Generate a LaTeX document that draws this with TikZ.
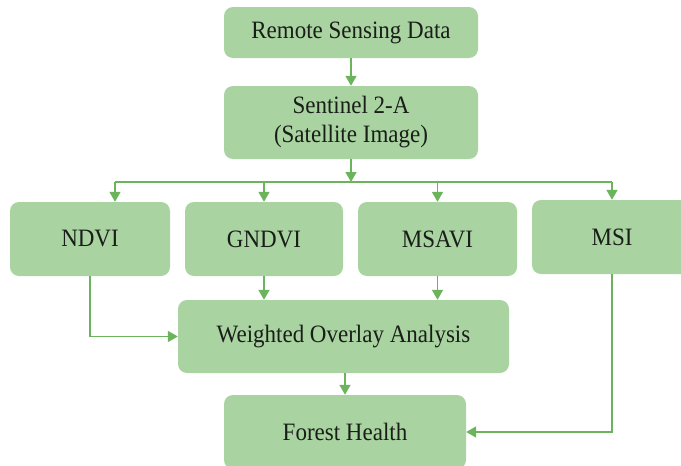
\documentclass[tikz,border=0pt]{standalone}
\usepackage{fontspec}
\setmainfont{Liberation Serif}[FakeStretch=0.92]
\usetikzlibrary{arrows.meta,calc}

\definecolor{boxfill}{RGB}{169,211,160}
\definecolor{linkgreen}{RGB}{108,180,92}
\definecolor{inktext}{RGB}{25,30,25}

\tikzset{
  stagebox/.style={rectangle, rounded corners=9pt, fill=boxfill, draw=none,
    inner sep=0pt, align=center, text=inktext,
    font=\fontsize{25pt}{29pt}\selectfont},
  link/.style={draw=linkgreen, line width=1.6pt},
  flow/.style={link, -{Triangle[length=10pt,width=11pt]}}
}

\begin{document}
\begin{tikzpicture}[x=1pt, y=-1pt]
  % canvas
  \fill[white] (0,0) rectangle (681,466);
  \useasboundingbox (0,0) rectangle (681,466);

  % boxes
  \node[stagebox, minimum width=254pt, minimum height=51pt] (rsd) at (351,32.5) {Remote Sensing Data};
  \node[stagebox, minimum width=254pt, minimum height=73pt] (sen) at (351,122.5) {Sentinel 2-A\\(Satellite Image)};
  \node[stagebox, minimum width=160pt, minimum height=74pt] (ndvi) at (90,239) {NDVI};
  \node[stagebox, minimum width=158pt, minimum height=74pt] (gndvi) at (264,239) {GNDVI};
  \node[stagebox, minimum width=159pt, minimum height=74pt] (msavi) at (437.5,239) {MSAVI};
  \node[stagebox, minimum width=160pt, minimum height=74pt] (msi) at (612,237) {MSI};
  \node[stagebox, minimum width=331pt, minimum height=73pt] (woa) at (343.5,336.5) {Weighted Overlay Analysis};
  \node[stagebox, minimum width=242pt, minimum height=74pt] (fh) at (345,432) {Forest Health};

  % distribution bus under the satellite image
  \coordinate (bus) at (351,182);
  \coordinate (busL) at (115,182);
  \coordinate (busR) at (612,182);

  % connectors
  \draw[flow] (rsd.south) -- (sen.north);
  \draw[flow] (sen.south) -- (bus);
  \draw[link] (busL) -- (busR);
  \draw[flow] (busL) -- (busL |- ndvi.north);
  \draw[flow] (bus -| gndvi.north) -- (gndvi.north);
  \draw[flow] (bus -| msavi.north) -- (msavi.north);
  \draw[flow] (busR) -- (msi.north);

  \draw[flow] (ndvi.south) |- (woa.west);
  \draw[flow] (gndvi.south) -- (gndvi.south |- woa.north);
  \draw[flow] (msavi.south) -- (msavi.south |- woa.north);
  \draw[flow] (woa.south -| fh.north) -- (fh.north);
  \draw[flow] (msi.south) |- (fh.east);
\end{tikzpicture}
\end{document}
